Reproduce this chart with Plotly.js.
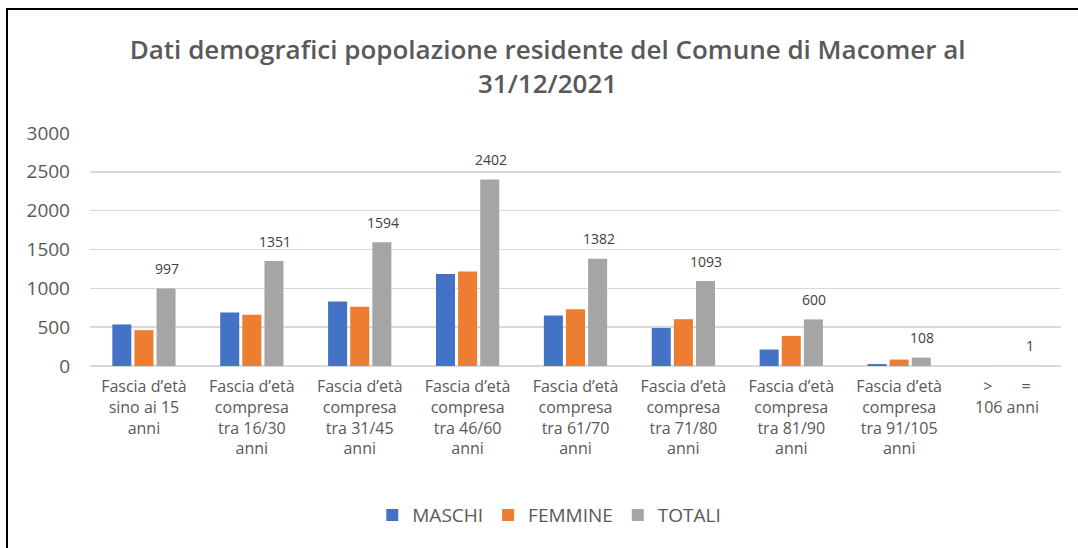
<!DOCTYPE html>
<html>
<head>
<meta charset="utf-8">
<script src="https://cdn.plot.ly/plotly-3.0.1.min.js"></script>
<style>
  html, body { margin: 0; padding: 0; background: #ffffff; }
  #wrap { position: relative; width: 1078px; height: 548px; overflow: hidden; }
  #chart { position: absolute; left: 0; top: 0; width: 1078px; height: 548px; }
  #frame { position: absolute; left: 6px; top: 8px; width: 1080px; height: 560px;
           border-left: 2.5px solid #000; border-top: 2.5px solid #000; pointer-events: none; }
</style>
</head>
<body>
<div id="wrap">
  <div id="chart"></div>
  <div id="frame"></div>
</div>
<script>
const categories = [
  "Fascia d’età<br>sino ai 15<br>anni",
  "Fascia d’età<br>compresa<br>tra 16/30<br>anni",
  "Fascia d’età<br>compresa<br>tra 31/45<br>anni",
  "Fascia d’età<br>compresa<br>tra 46/60<br>anni",
  "Fascia d’età<br>compresa<br>tra 61/70<br>anni",
  "Fascia d’età<br>compresa<br>tra 71/80<br>anni",
  "Fascia d’età<br>compresa<br>tra 81/90<br>anni",
  "Fascia d’età<br>compresa<br>tra 91/105<br>anni",
  ">\u00a0\u00a0\u00a0\u00a0\u00a0\u00a0\u00a0=<br>106 anni"
];
const maschi  = [535, 690, 830, 1186, 650, 490, 212, 25, 0];
const femmine = [462, 661, 764, 1216, 732, 603, 388, 83, 1];
const totali  = [997, 1351, 1594, 2402, 1382, 1093, 600, 108, 1];
const seriesNames = ["MASCHI", "FEMMINE", "TOTALI"];

const colors = ["#4472c4", "#ed7d31", "#a5a5a5"];
const traces = [maschi, femmine, totali].map((vals, i) => ({
  type: "bar",
  name: seriesNames[i],
  x: categories,
  y: vals,
  marker: { color: colors[i] },
  hoverinfo: "x+y+name"
}));

const annotations = totali.map((v, i) => ({
  x: categories[i], y: v, xref: "x", yref: "y",
  text: String(v), showarrow: false,
  xshift: 23, yshift: 20, yanchor: "middle",
  font: { family: "Open Sans, sans-serif", size: 14, color: "#404040" }
}));

const layout = {
  width: 1078, height: 548,
  paper_bgcolor: "#ffffff", plot_bgcolor: "#ffffff",
  margin: { l: 90, r: 17, t: 133, b: 182 },
  title: {
    text: "Dati demografici popolazione residente del Comune di Macomer al<br>31/12/2021",
    x: 0.508, xref: "container", xanchor: "center",
    y: 1 - 59 / 548, yref: "container", yanchor: "middle",
    font: { family: "Open Sans, sans-serif", size: 26, color: "#595959", weight: 600 }
  },
  barmode: "group",
  bargap: 0.385,
  bargroupgap: 0.14,
  xaxis: {
    type: "category",
    showgrid: false, showline: false, zeroline: false,
    ticks: "", ticklabelstandoff: 9,
    tickangle: 0,
    tickfont: { family: "Open Sans, sans-serif", size: 16, color: "#595959" },
    fixedrange: true
  },
  yaxis: {
    range: [0, 3000], dtick: 500,
    showgrid: true, gridcolor: "#d9d9d9", gridwidth: 1.5,
    zeroline: true, zerolinecolor: "#d9d9d9", zerolinewidth: 1.5,
    showline: false, ticks: "",
    tickfont: { family: "Open Sans, sans-serif", size: 19, color: "#595959" },
    ticklabelstandoff: 19,
    fixedrange: true
  },
  legend: {
    orientation: "h",
    x: 0.473, xanchor: "center",
    y: -0.64, yanchor: "middle",
    font: { family: "Open Sans, sans-serif", size: 19, color: "#595959" },
    itemwidth: 30,
    traceorder: "normal"
  },
  annotations: annotations,
  showlegend: true
};

Plotly.newPlot("chart", traces, layout, { displayModeBar: false, staticPlot: true });
</script>
</body>
</html>
